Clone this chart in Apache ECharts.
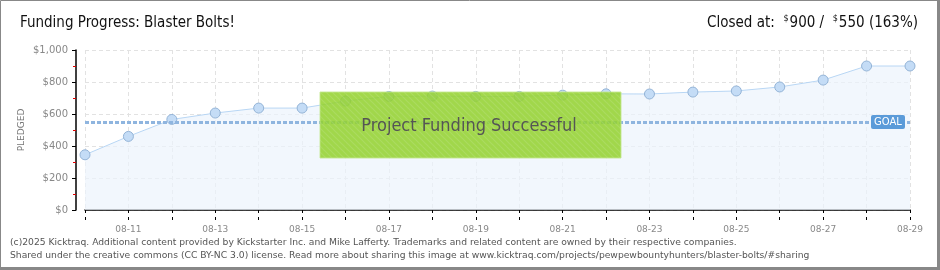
<!DOCTYPE html>
<html><head><meta charset="utf-8">
<script src="https://cdn.jsdelivr.net/npm/echarts@6/dist/echarts.min.js"></script>
<style>html,body{margin:0;padding:0;background:#fff}#c{width:940px;height:270px}</style>
</head><body><div id="c"></div>
<script>
const categories = ['08-10','08-11','08-12','08-13','08-14','08-15','08-16','08-17','08-18','08-19','08-20','08-21','08-22','08-23','08-24','08-25','08-26','08-27','08-28','08-29'];
const pledged = [345,460,566,606,637,637,681,710,712,710,710,718,726,725,737,744,769,812,900,900];
const goal = 550;
const closedAt = 900;
const percent = 163;
const titleText = 'Funding Progress: Blaster Bolts!';
const bannerText = 'Project Funding Successful';
const footer1 = '(c)2025 Kicktraq. Additional content provided by Kickstarter Inc. and Mike Lafferty. Trademarks and related content are owned by their respective companies.';
const footer2 = 'Shared under the creative commons (CC BY-NC 3.0) license. Read more about sharing this image at www.kicktraq.com/projects/pewpewbountyhunters/blaster-bolts/#sharing';

const pc = document.createElement('canvas'); pc.width = 6; pc.height = 6;
const cx = pc.getContext('2d');
cx.fillStyle = '#94d22e'; cx.fillRect(0,0,6,6);
cx.strokeStyle = 'rgba(255,255,255,0.12)'; cx.lineWidth = 1.2;
cx.beginPath(); cx.moveTo(0,0); cx.lineTo(6,6); cx.moveTo(-3,3); cx.lineTo(3,9); cx.moveTo(3,-3); cx.lineTo(9,3); cx.stroke();

const headFont = "'DejaVu Sans Condensed', Roboto, sans-serif";
const chart = echarts.init(document.getElementById('c'), null, {renderer:'canvas'});
const axisFont = 'DejaVu Sans';
const option = {
  animation: false,
  grid: {left: 85, right: 30, top: 50, bottom: 60},
  xAxis: [{
    type: 'category', data: categories, boundaryGap: false, offset: 10,
    axisLine: {lineStyle: {color: '#000', width: 1.5}},
    axisTick: {show: true, interval: 0, length: 3, lineStyle: {color: '#000'}},
    axisLabel: {interval: 0, margin: 5, color: '#888', fontFamily: axisFont, fontSize: 9,
      formatter: (v, i) => (i % 2 === 1 ? v : '')},
    splitLine: {show: true, interval: 0, lineStyle: {color: '#e2e2e2', type: [4,3]}}
  }, {
    type: 'category', data: categories, boundaryGap: false, offset: 10, position: 'bottom',
    axisLine: {show: false},
    axisTick: {show: true, inside: true, interval: 0, length: 3, lineStyle: {color: '#000'}},
    axisLabel: {show: false}, splitLine: {show: false}
  }],
  yAxis: {
    type: 'value', min: 0, max: 1000, interval: 200, offset: 9,
    name: 'PLEDGED', nameLocation: 'middle', nameGap: 50, nameRotate: 90, nameMoveOverlap: false,
    nameTextStyle: {color: '#777', fontFamily: axisFont, fontSize: 9},
    axisLine: {show: true, lineStyle: {color: '#000', width: 1.5}},
    axisTick: {show: true, length: 4, lineStyle: {color: '#000'}},
    minorTick: {show: true, splitNumber: 2, length: 3, lineStyle: {color: '#e00000'}},
    axisLabel: {margin: 8, color: '#888', fontFamily: axisFont, fontSize: 10,
      formatter: v => '$' + v.toLocaleString('en-US')},
    splitLine: {show: true, lineStyle: {color: '#e2e2e2', type: [4,3]}}
  },
  series: [{
    type: 'line', data: pledged, symbol: 'circle', symbolSize: 10,
    lineStyle: {color: '#b8d6f4', width: 1},
    itemStyle: {color: '#c4dcf6', borderColor: '#93b3d6', borderWidth: 1},
    areaStyle: {color: '#edf4fc'},
    z: 2,
    markLine: {
      silent: true, symbol: 'none', label: {show: false},
      lineStyle: {color: '#8fb5df', width: 3, type: [4,2]},
      data: [{yAxis: goal}]
    }
  }]
};
chart.setOption(option);

const yGoal = chart.convertToPixel({yAxisIndex: 0}, goal);
const xEnd = chart.convertToPixel({xAxisIndex: 0}, categories[categories.length - 1]);
chart.setOption({
  graphic: [
    {type: 'rect', shape: {x: 0.5, y: 0.5, width: 938, height: 268}, style: {fill: 'none', stroke: '#888', lineWidth: 1}, z: 100},
    {type: 'rect', shape: {x: 937, y: 0, width: 3, height: 270}, style: {fill: '#888'}, z: 100},
    {type: 'rect', shape: {x: 0, y: 267, width: 940, height: 3}, style: {fill: '#888'}, z: 100},
    {type: 'text', x: 20, y: 23, style: {
      text: titleText, verticalAlign: 'middle', font: "15px 'DejaVu Sans Condensed', Roboto, sans-serif", fill: '#111'
    }, z: 100},
    {type: 'text', x: 918, y: 23, style: {
      text: '{t|Closed at:  }{s|$}{t|' + closedAt + ' /  }{s|$}{t|' + goal + ' (' + percent + '%)}',
      align: 'right', verticalAlign: 'middle',
      rich: {
        t: {fontFamily: headFont, fontSize: 15, fill: '#111'},
        s: {fontFamily: headFont, fontSize: 9, fill: '#111', padding: [0,1,8,0]}
      }
    }, z: 100},
    {type: 'rect', shape: {x: 320, y: 92, width: 301, height: 66},
      style: {fill: {image: pc, repeat: 'repeat'}, stroke: '#c3e78e', lineWidth: 1, opacity: 0.86}, z: 50},
    {type: 'text', x: 469, y: 126, style: {
      text: bannerText, align: 'center', verticalAlign: 'middle',
      fontFamily: headFont, fontSize: 18, fill: '#555',
      textShadowColor: '#fff', textShadowOffsetX: -1, textShadowOffsetY: 1, textShadowBlur: 0
    }, z: 51},
    {type: 'rect', shape: {x: xEnd - 39, y: yGoal - 7, width: 34, height: 14, r: 2},
      style: {fill: '#5b9bd9'}, z: 60},
    {type: 'text', x: xEnd - 22, y: yGoal, style: {
      text: 'GOAL', align: 'center', verticalAlign: 'middle', fontFamily: axisFont, fontSize: 10, fill: '#fff'
    }, z: 61},
    {type: 'text', x: 10, y: 243, style: {text: footer1, verticalAlign: 'middle', fontFamily: 'DejaVu Sans', fontSize: 9.2, fill: '#555'}, z: 100},
    {type: 'text', x: 10, y: 256, style: {text: footer2, verticalAlign: 'middle', fontFamily: 'DejaVu Sans', fontSize: 9.2, fill: '#555'}, z: 100}
  ]
});
</script></body></html>
